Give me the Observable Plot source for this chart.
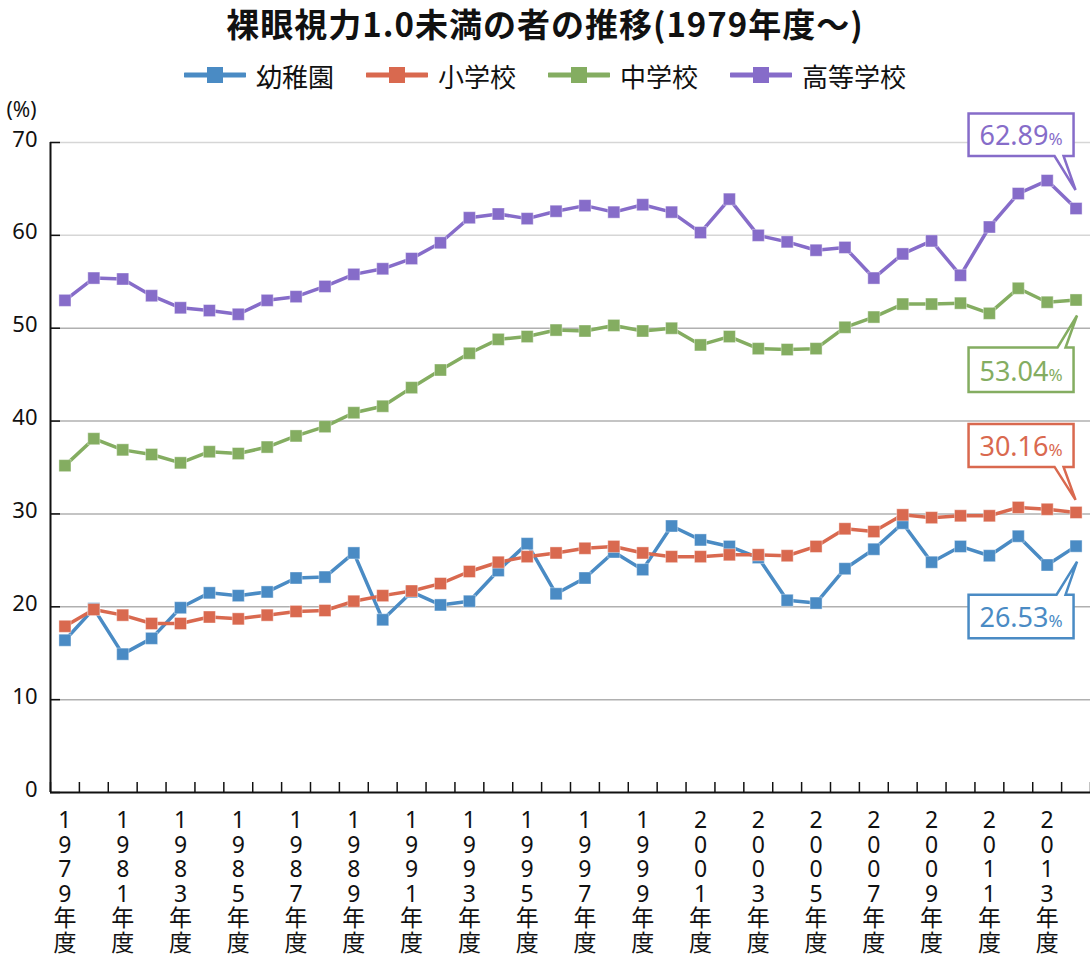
<!DOCTYPE html>
<html><head><meta charset="utf-8">
<script src="https://cdn.jsdelivr.net/npm/d3@7"></script>
<script src="https://cdn.jsdelivr.net/npm/@observablehq/plot@0.6"></script>
<style>
body{margin:0;background:#fff;font-family:"Noto Sans CJK JP","Noto Sans",sans-serif;width:1090px;}
#title{height:46px;line-height:46px;text-align:center;font-size:33px;letter-spacing:1px;font-weight:bold;color:#111;white-space:nowrap;}
#legend{height:48px;box-sizing:border-box;padding-top:10px;display:flex;justify-content:center;gap:32px;font-size:26px;color:#111;}
.item{display:flex;align-items:center;height:38px;gap:10px}
#chart svg{display:block}
</style></head>
<body><div id="title">裸眼視力1.0未満の者の推移(1979年度～)</div><div id="legend"></div><div id="chart"></div>
<script>
const years = [1979,1980,1981,1982,1983,1984,1985,1986,1987,1988,1989,1990,1991,1992,1993,1994,1995,1996,1997,1998,1999,2000,2001,2002,2003,2004,2005,2006,2007,2008,2009,2010,2011,2012,2013,2014];
const kindergarten = [16.4,19.8,14.9,16.6,19.9,21.5,21.2,21.6,23.1,23.2,25.8,18.6,21.6,20.2,20.6,23.9,26.8,21.4,23.1,25.9,24.0,28.7,27.2,26.5,25.3,20.7,20.4,24.1,26.2,29.0,24.8,26.5,25.5,27.6,24.5,26.53];
const elementary = [17.9,19.7,19.1,18.2,18.2,18.9,18.7,19.1,19.5,19.6,20.6,21.2,21.7,22.5,23.8,24.8,25.4,25.8,26.3,26.5,25.8,25.4,25.4,25.6,25.6,25.5,26.5,28.4,28.1,29.9,29.6,29.8,29.8,30.7,30.5,30.16];
const juniorHigh = [35.2,38.1,36.9,36.4,35.5,36.7,36.5,37.2,38.4,39.4,40.9,41.6,43.6,45.5,47.3,48.8,49.1,49.8,49.7,50.3,49.7,50.0,48.2,49.1,47.8,47.7,47.8,50.1,51.2,52.6,52.6,52.7,51.6,54.3,52.8,53.04];
const highSchool = [53.0,55.4,55.3,53.5,52.2,51.9,51.5,53.0,53.4,54.5,55.8,56.4,57.5,59.2,61.9,62.3,61.8,62.6,63.2,62.5,63.3,62.5,60.3,63.9,60.0,59.3,58.4,58.7,55.4,58.0,59.4,55.7,60.9,64.5,65.9,62.89];
const seriesNames = ["幼稚園","小学校","中学校","高等学校"];
const seriesColors = ["#4a8bc4","#d9694f","#84ad61","#866cc9"];
const yTicks = [0,10,20,30,40,50,60,70];
const labelYears = [1979,1981,1983,1985,1987,1989,1991,1993,1995,1997,1999,2001,2003,2005,2007,2009,2011,2013];
const calloutLabels = ["26.53","30.16","53.04","62.89"];

const seriesValues = [kindergarten, elementary, juniorHigh, highSchool];
const rows = [];
seriesNames.forEach((s,i)=>years.forEach((y,j)=>rows.push({series:s, year:y, value:seriesValues[i][j]})));

// legend
const legend = d3.select("#legend");
seriesNames.forEach((s,i)=>{
  const it = legend.append("div").attr("class","item");
  const sv = it.append("svg").attr("width",62).attr("height",20);
  sv.append("line").attr("x1",1).attr("x2",61).attr("y1",10).attr("y2",10).attr("stroke",seriesColors[i]).attr("stroke-width",5).attr("stroke-linecap","round");
  sv.append("rect").attr("x",23).attr("y",2).attr("width",16).attr("height",16).attr("fill",seriesColors[i]);
  it.append("span").text(s);
});

const W=1090, H=863, mt=48, mb=165, ml=50, mr=0;
const innerW=W-ml-mr, innerH=H-mt-mb;
const x0=years[0]-0.5, x1=years[years.length-1]+0.5;
const boundaries = d3.range(x0, x1+0.01, 1);
const numFont = '"Noto Sans","Noto Sans CJK JP",sans-serif';

const plot = Plot.plot({
  width:W, height:H, marginTop:mt, marginBottom:mb, marginLeft:ml, marginRight:mr,
  style:{fontFamily:numFont, background:"white", overflow:"visible", color:"#111"},
  x:{domain:[x0,x1]},
  y:{domain:[0,70]},
  color:{domain:seriesNames, range:seriesColors},
  marks:[
    Plot.ruleY(yTicks.filter(d=>d>0&&d<=50), {stroke:"#b0b0b0", strokeWidth:1.5}),
    Plot.ruleY(yTicks.filter(d=>d>50), {stroke:"#d6d6d6", strokeWidth:1.5}),
    Plot.ruleX(boundaries, {stroke:"#111", strokeWidth:1.5, insetTop:innerH-10}),
    Plot.ruleY(yTicks, {stroke:"#111", strokeWidth:1.5, insetRight:innerW-10}),
    Plot.ruleX([x0], {stroke:"#111", strokeWidth:2}),
    Plot.ruleY([0], {stroke:"#111", strokeWidth:2}),
    Plot.axisY({ticks:yTicks, tickSize:0, tickPadding:13, fontSize:22, label:null, dy:-3}),
    Plot.axisX({ticks:labelYears, tickSize:0, tickPadding:18, fontSize:23, lineHeight:1.07, label:null,
      tickFormat:d=>[...(String(d)+"年度")].join("\n")}),
    Plot.text(["(%)"], {x:x0, y:70, dx:-29, dy:-32, fontSize:21, fill:"#111"}),
    Plot.lineY(rows, {x:"year", y:"value", stroke:"series", strokeWidth:3.5, z:"series"}),
    Plot.dot(rows, {x:"year", y:"value", fill:"series", symbol:"square", r:6.8, stroke:"white", strokeOpacity:0.5, strokeWidth:0.8})
  ]
});
document.getElementById("chart").appendChild(plot);

// callouts
const sx = plot.scale("x"), sy = plot.scale("y");
const fx = d3.scaleLinear(sx.domain, sx.range), fy = d3.scaleLinear(sy.domain, sy.range);
const calloutLayout = [
  {i:0, above:false, top:49, bottom:92.5, tip:16, b1:-19, b2:-10},
  {i:1, above:true, top:-88, bottom:-45, tip:-12, b1:-21, b2:-12},
  {i:2, above:false, top:48, bottom:92.5, tip:16, b1:-18, b2:-10},
  {i:3, above:true, top:-94.5, bottom:-52, tip:-18, b1:-21, b2:-12}
];
const g = d3.select(plot).append("g");
calloutLayout.forEach(c=>{
  const last = years.length-1;
  const px = fx(years[last]), py = fy(seriesValues[c.i][last]);
  const L = px-107, R = px-2, T = py+c.top, B = py+c.bottom;
  const tipx = px + (c.above?0:1.5), tipy = py + c.tip;
  let d;
  if (c.above) d = `M${L},${T}H${R}V${B}H${px+c.b2}L${tipx},${tipy}L${px+c.b1},${B}H${L}Z`;
  else d = `M${L},${T}H${px+c.b1}L${tipx},${tipy}L${px+c.b2},${T}H${R}V${B}H${L}Z`;
  g.append("path").attr("d",d).attr("fill","white").attr("stroke",seriesColors[c.i]).attr("stroke-width",2.5).attr("stroke-linejoin","miter");
  const t = g.append("text").attr("x",(L+R)/2).attr("y",B-11).attr("text-anchor","middle")
    .attr("fill",seriesColors[c.i]).attr("font-family",numFont);
  t.append("tspan").attr("font-size",27).text(calloutLabels[c.i]);
  t.append("tspan").attr("font-size",17).text("%");
});
</script>
</body></html>
